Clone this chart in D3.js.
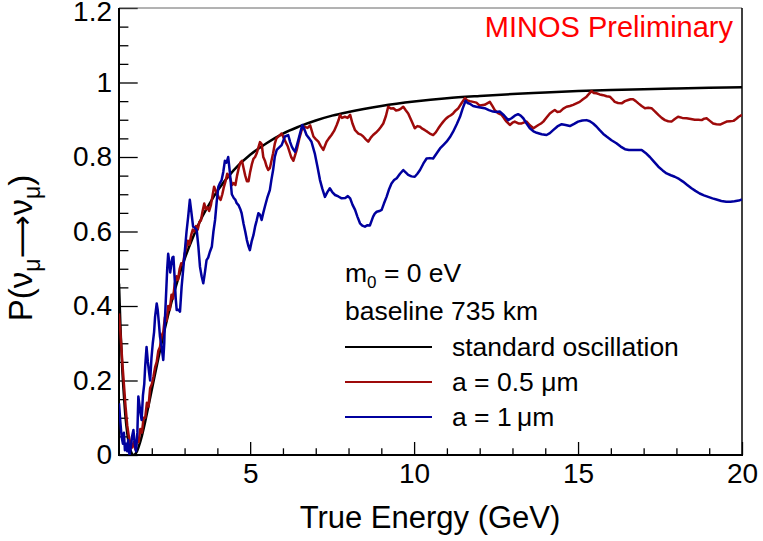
<!DOCTYPE html>
<html><head><meta charset="utf-8">
<script src="https://cdn.jsdelivr.net/npm/d3@7"></script>
<style>
body{margin:0;background:#fff}
svg{display:block}
text{font-family:"Liberation Sans",Arial,Helvetica,sans-serif}
</style>
</head><body>
<svg id="c" width="763" height="541"></svg>
<script>
// ---------------- data ----------------
const stdE = [1.00,1.05,1.10,1.15,1.20,1.25,1.30,1.35,1.40,1.45,1.50,1.55,1.60,1.70,1.80,1.90,2.00,2.2,2.4,2.6,2.8,3.0,3.25,3.5,3.75,4.0,4.5,5,5.5,6,6.5,7,7.5,8,9,10,11,12,13,14,15,16,17,18,19,20];
const stdP = [0.46,0.33,0.23,0.16,0.10,0.06,0.03,0.013,0.003,0.0,0.003,0.01,0.022,0.052,0.09,0.132,0.175,0.26,0.34,0.41,0.472,0.526,0.583,0.633,0.673,0.709,0.765,0.806,0.837,0.863,0.882,0.898,0.911,0.921,0.937,0.949,0.958,0.964,0.969,0.973,0.977,0.980,0.982,0.984,0.986,0.987];

const redE = [1.00,1.05,1.10,1.15,1.20,1.25,1.30,1.35,1.40,1.45,1.50,1.55,1.60,1.65,1.70,1.75,1.80,1.85,1.90,1.95,2.00,2.05,2.10,2.15,2.20,2.25,2.30,2.35,2.40,2.45,2.50,2.55,2.60,2.65,2.70,2.75,2.80,2.85,2.90,2.95,3.00,3.05,3.10,3.15,3.20,3.25,3.30,3.35,3.40,3.45,3.50,3.55,3.60,3.65,3.70,3.75,3.80,3.85,3.90,3.95,4.00,4.05,4.10,4.15,4.20,4.25,4.30,4.35,4.40,4.45,4.50,4.55,4.60,4.65,4.70,4.75,4.80,4.85,4.90,4.95,5.00,5.05,5.10,5.15,5.20,5.25,5.30,5.35,5.40,5.45,5.50,5.55,5.60,5.65,5.70,5.75,5.80,5.90,5.96,6.05,6.15,6.25,6.32,6.42,6.50,6.57,6.67,6.75,6.83,6.93,7.00,7.08,7.15,7.23,7.33,7.40,7.48,7.56,7.64,7.70,7.74,7.80,7.89,7.97,8.05,8.12,8.20,8.30,8.38,8.45,8.52,8.60,8.68,8.75,8.83,8.91,8.98,9.06,9.14,9.21,9.29,9.37,9.45,9.52,9.60,9.67,9.75,9.82,9.93,10.02,10.10,10.18,10.25,10.33,10.40,10.48,10.58,10.66,10.74,10.81,10.89,10.96,11.04,11.12,11.19,11.27,11.35,11.45,11.55,11.62,11.70,11.80,11.90,12.00,12.15,12.31,12.40,12.46,12.56,12.67,12.75,12.82,12.92,13.00,13.07,13.18,13.28,13.36,13.43,13.53,13.64,13.72,13.79,13.87,13.94,14.04,14.14,14.22,14.29,14.37,14.45,14.55,14.65,14.75,14.85,14.95,15.05,15.15,15.26,15.34,15.41,15.48,15.56,15.66,15.77,15.87,15.97,16.05,16.12,16.22,16.33,16.43,16.53,16.60,16.68,16.76,16.84,16.94,17.04,17.14,17.24,17.35,17.45,17.55,17.65,17.75,17.85,17.95,18.05,18.18,18.31,18.44,18.56,18.67,18.77,18.85,18.92,19.02,19.12,19.22,19.33,19.43,19.53,19.64,19.74,19.82,19.90,20.00];
const redP = [0.38,0.32,0.25,0.19,0.13,0.08,0.05,0.03,0.02,0.035,0.015,0.04,0.035,0.07,0.06,0.10,0.10,0.14,0.13,0.18,0.19,0.21,0.235,0.25,0.28,0.29,0.32,0.33,0.37,0.36,0.40,0.39,0.43,0.42,0.46,0.48,0.47,0.50,0.515,0.51,0.54,0.555,0.575,0.565,0.59,0.605,0.60,0.615,0.605,0.625,0.63,0.655,0.675,0.66,0.665,0.655,0.67,0.695,0.72,0.71,0.70,0.69,0.685,0.70,0.72,0.735,0.755,0.75,0.74,0.725,0.73,0.725,0.75,0.77,0.785,0.79,0.77,0.75,0.735,0.735,0.76,0.78,0.795,0.80,0.81,0.825,0.84,0.835,0.80,0.79,0.775,0.765,0.77,0.79,0.81,0.835,0.85,0.858,0.863,0.846,0.828,0.80,0.79,0.819,0.85,0.872,0.881,0.878,0.885,0.855,0.848,0.841,0.83,0.819,0.841,0.85,0.859,0.87,0.886,0.90,0.913,0.905,0.908,0.905,0.913,0.89,0.872,0.863,0.86,0.855,0.848,0.841,0.852,0.859,0.865,0.872,0.88,0.89,0.91,0.935,0.93,0.931,0.925,0.926,0.93,0.935,0.925,0.917,0.895,0.877,0.883,0.881,0.876,0.872,0.868,0.863,0.859,0.866,0.877,0.886,0.895,0.902,0.908,0.912,0.917,0.925,0.931,0.945,0.958,0.952,0.950,0.948,0.946,0.938,0.940,0.948,0.935,0.926,0.918,0.913,0.903,0.895,0.886,0.892,0.895,0.890,0.890,0.893,0.895,0.885,0.877,0.882,0.886,0.890,0.895,0.906,0.917,0.922,0.926,0.921,0.922,0.930,0.935,0.937,0.940,0.944,0.948,0.955,0.962,0.970,0.977,0.972,0.971,0.968,0.966,0.963,0.962,0.955,0.948,0.945,0.944,0.950,0.953,0.955,0.955,0.950,0.944,0.937,0.931,0.932,0.931,0.922,0.913,0.905,0.899,0.896,0.895,0.902,0.908,0.905,0.904,0.902,0.900,0.900,0.899,0.903,0.904,0.897,0.890,0.888,0.887,0.891,0.895,0.896,0.897,0.902,0.908,0.913];

const blueE = [1.00,1.04,1.08,1.12,1.15,1.18,1.22,1.25,1.28,1.32,1.36,1.40,1.44,1.48,1.52,1.56,1.59,1.63,1.66,1.69,1.73,1.77,1.80,1.84,1.88,1.92,1.95,1.99,2.03,2.07,2.10,2.15,2.18,2.22,2.25,2.30,2.35,2.38,2.40,2.44,2.47,2.50,2.53,2.56,2.60,2.63,2.66,2.70,2.73,2.76,2.81,2.86,2.91,2.96,3.01,3.06,3.11,3.16,3.21,3.26,3.31,3.37,3.42,3.47,3.52,3.57,3.62,3.67,3.72,3.77,3.83,3.88,3.93,3.98,4.03,4.08,4.13,4.18,4.23,4.28,4.33,4.38,4.44,4.50,4.55,4.59,4.65,4.70,4.74,4.80,4.85,4.90,4.95,4.99,5.05,5.10,5.15,5.20,5.25,5.30,5.35,5.40,5.45,5.52,5.60,5.65,5.70,5.75,5.81,5.88,5.96,6.06,6.16,6.22,6.27,6.32,6.37,6.42,6.47,6.53,6.59,6.65,6.72,6.80,6.87,6.92,6.97,7.05,7.13,7.20,7.28,7.35,7.43,7.51,7.59,7.69,7.79,7.90,7.98,8.05,8.12,8.20,8.27,8.35,8.42,8.50,8.58,8.65,8.70,8.75,8.80,8.86,8.94,9.01,9.08,9.16,9.23,9.31,9.39,9.47,9.57,9.67,9.75,9.82,9.92,10.02,10.10,10.18,10.28,10.38,10.48,10.58,10.69,10.79,10.89,10.99,11.09,11.19,11.30,11.40,11.48,11.57,11.63,11.70,11.80,11.90,12.02,12.15,12.28,12.41,12.51,12.61,12.74,12.87,12.97,13.07,13.17,13.25,13.33,13.43,13.53,13.64,13.74,13.89,14.04,14.14,14.24,14.37,14.50,14.62,14.75,14.88,15.00,15.13,15.26,15.36,15.46,15.56,15.66,15.77,15.87,16.02,16.17,16.30,16.43,16.55,16.68,16.81,16.94,17.06,17.19,17.32,17.45,17.58,17.70,17.83,17.95,18.08,18.20,18.33,18.46,18.58,18.71,18.84,18.97,19.10,19.22,19.37,19.52,19.65,19.77,19.90,20.00];
const blueP = [0.139,0.09,0.049,0.03,0.06,0.013,0.03,0.01,0.04,0.0,0.02,0.05,0.067,0.03,0.01,0.06,0.157,0.13,0.11,0.094,0.16,0.19,0.24,0.29,0.25,0.22,0.20,0.26,0.30,0.33,0.371,0.407,0.39,0.35,0.318,0.29,0.255,0.30,0.362,0.44,0.50,0.54,0.52,0.49,0.515,0.53,0.532,0.47,0.42,0.389,0.39,0.385,0.452,0.50,0.55,0.60,0.64,0.685,0.65,0.613,0.61,0.604,0.56,0.505,0.48,0.461,0.49,0.523,0.53,0.545,0.559,0.60,0.631,0.68,0.72,0.73,0.738,0.76,0.79,0.785,0.80,0.76,0.70,0.69,0.685,0.676,0.67,0.66,0.649,0.62,0.60,0.577,0.56,0.55,0.575,0.59,0.613,0.63,0.649,0.645,0.631,0.65,0.667,0.69,0.711,0.74,0.765,0.80,0.819,0.825,0.832,0.855,0.859,0.84,0.828,0.82,0.814,0.83,0.846,0.866,0.886,0.875,0.859,0.85,0.841,0.825,0.81,0.775,0.738,0.715,0.693,0.705,0.716,0.705,0.698,0.694,0.689,0.69,0.695,0.689,0.672,0.658,0.64,0.622,0.616,0.613,0.617,0.616,0.628,0.64,0.648,0.653,0.655,0.658,0.675,0.693,0.712,0.729,0.738,0.743,0.755,0.765,0.758,0.752,0.748,0.747,0.755,0.765,0.782,0.796,0.797,0.796,0.81,0.823,0.832,0.841,0.853,0.868,0.888,0.908,0.93,0.951,0.945,0.943,0.937,0.935,0.933,0.931,0.926,0.922,0.921,0.922,0.912,0.899,0.904,0.911,0.915,0.911,0.904,0.89,0.877,0.869,0.865,0.861,0.859,0.864,0.872,0.882,0.888,0.886,0.883,0.889,0.895,0.898,0.899,0.896,0.89,0.882,0.872,0.862,0.855,0.845,0.837,0.828,0.821,0.819,0.819,0.819,0.819,0.811,0.80,0.787,0.774,0.764,0.756,0.751,0.747,0.741,0.734,0.725,0.716,0.709,0.702,0.697,0.693,0.689,0.686,0.682,0.68,0.68,0.681,0.683,0.686];

const xMajorTicks = [5,10,15,20];
const xMinorTicks = [2,3,4,6,7,8,9,11,12,13,14,16,17,18,19];
const yMajorTicks = [0,0.2,0.4,0.6,0.8,1,1.2];
const yMinorTicks = [0.05,0.1,0.15,0.25,0.3,0.35,0.45,0.5,0.55,0.65,0.7,0.75,0.85,0.9,0.95,1.05,1.1,1.15];
const seriesNames = ["standard oscillation","a = 0.5 \u03BCm","a = 1\u2009\u03BCm"];
const seriesColors = ["#000000","#9e0a0a","#00009e"];

// ---------------- drawing ----------------
const svg = d3.select("#c");
const L = 119, R = 742, T = 8, B = 455;
const x = d3.scaleLinear().domain([1,20]).range([L,R]);
const y = d3.scaleLinear().domain([0,1.2]).range([B,T]);

svg.append("defs").append("clipPath").attr("id","clip")
  .append("rect").attr("x",L).attr("y",T).attr("width",R-L).attr("height",B-T);

// axes
const gx = svg.append("g").attr("transform",`translate(0,${B})`);
gx.call(d3.axisBottom(x).tickValues(xMajorTicks).tickSizeInner(-13).tickSizeOuter(0).tickPadding(22).tickFormat(d3.format("d")));
gx.select(".domain").remove();
gx.selectAll(".tick line").attr("stroke","#000").attr("stroke-width",1.3);
gx.selectAll("text").attr("font-size",28).attr("fill","#000").attr("dy",null).attr("y",28);
const gxm = svg.append("g").attr("transform",`translate(0,${B})`);
gxm.call(d3.axisBottom(x).tickValues(xMinorTicks).tickSizeInner(-6.7).tickSizeOuter(0).tickFormat(""));
gxm.select(".domain").remove();
gxm.selectAll(".tick line").attr("stroke","#000").attr("stroke-width",1.3);

const gy = svg.append("g").attr("transform",`translate(${L},0)`);
gy.call(d3.axisLeft(y).tickValues(yMajorTicks).tickSizeInner(-18.7).tickSizeOuter(0).tickPadding(7).tickFormat(d => d3.format("")(+d.toFixed(1))));
gy.select(".domain").remove();
gy.selectAll(".tick line").attr("stroke","#000").attr("stroke-width",1.3);
gy.selectAll("text").attr("font-size",28).attr("fill","#000").attr("x",-7);
gy.selectAll(".tick text").filter(d => Math.abs(d - 1.2) < 1e-9).attr("y",4);
const gym = svg.append("g").attr("transform",`translate(${L},0)`);
gym.call(d3.axisLeft(y).tickValues(yMinorTicks).tickSizeInner(-9.4).tickSizeOuter(0).tickFormat(""));
gym.select(".domain").remove();
gym.selectAll(".tick line").attr("stroke","#000").attr("stroke-width",1.3);

// frame
svg.append("line").attr("x1",L).attr("x2",R).attr("y1",T).attr("y2",T).attr("stroke","#666").attr("stroke-width",1);
svg.append("line").attr("x1",R).attr("x2",R).attr("y1",T).attr("y2",B).attr("stroke","#000").attr("stroke-width",1.5);
svg.append("line").attr("x1",L).attr("x2",R+1).attr("y1",B).attr("y2",B).attr("stroke","#000").attr("stroke-width",2);
svg.append("line").attr("x1",L).attr("x2",L).attr("y1",T).attr("y2",B+1).attr("stroke","#000").attr("stroke-width",2);

// curves
const lineGen = d3.line().x(d => x(d[0])).y(d => y(d[1]));
const series = [
  {E: stdE, P: stdP, curve: d3.curveMonotoneX},
  {E: redE, P: redP, curve: d3.curveLinear},
  {E: blueE, P: blueP, curve: d3.curveLinear}
];
const gc = svg.append("g").attr("clip-path","url(#clip)");
series.forEach((s,i) => {
  gc.append("path")
    .attr("d", lineGen.curve(s.curve)(s.E.map((e,k)=>[e,s.P[k]])))
    .attr("fill","none").attr("stroke",seriesColors[i]).attr("stroke-width",2.5)
    .attr("stroke-linejoin","round");
});

// texts
svg.append("text").attr("x",733).attr("y",37).attr("text-anchor","end")
  .attr("font-size",29).attr("fill","#ff0000").text("MINOS Preliminary");

svg.append("text").attr("x",430).attr("y",528).attr("text-anchor","middle")
  .attr("font-size",31).attr("fill","#000").text("True Energy (GeV)");

const yt = svg.append("text").attr("transform","translate(32,248) rotate(-90)")
  .attr("text-anchor","middle").attr("font-size",33).attr("fill","#000");
yt.append("tspan").text("P(\u03BD");
yt.append("tspan").attr("font-size",23).attr("dy",8).text("\u03BC");
yt.append("tspan").attr("dy",-8).attr("font-family","DejaVu Sans").attr("font-size",30).text("\u27F6");
yt.append("tspan").text("\u03BD");
yt.append("tspan").attr("font-size",23).attr("dy",8).text("\u03BC");
yt.append("tspan").attr("dy",-8).text(")");

// legend
const lt = svg.append("text").attr("x",345).attr("y",282).attr("font-size",26.5).attr("fill","#000");
lt.append("tspan").text("m");
lt.append("tspan").attr("font-size",17).attr("dy",6).text("0");
lt.append("tspan").attr("dy",-6).text(" = 0 eV");
svg.append("text").attr("x",345).attr("y",320).attr("font-size",26.5).attr("fill","#000").text("baseline 735 km");

const legY = [347, 382, 417];
seriesNames.forEach((nm,i) => {
  svg.append("line").attr("x1",345).attr("x2",432).attr("y1",legY[i]).attr("y2",legY[i])
    .attr("stroke",seriesColors[i]).attr("stroke-width",2.2);
  svg.append("text").attr("x",452).attr("y",legY[i]+9).attr("font-size",26.5).attr("fill","#000").text(nm);
});
</script>
</body></html>
